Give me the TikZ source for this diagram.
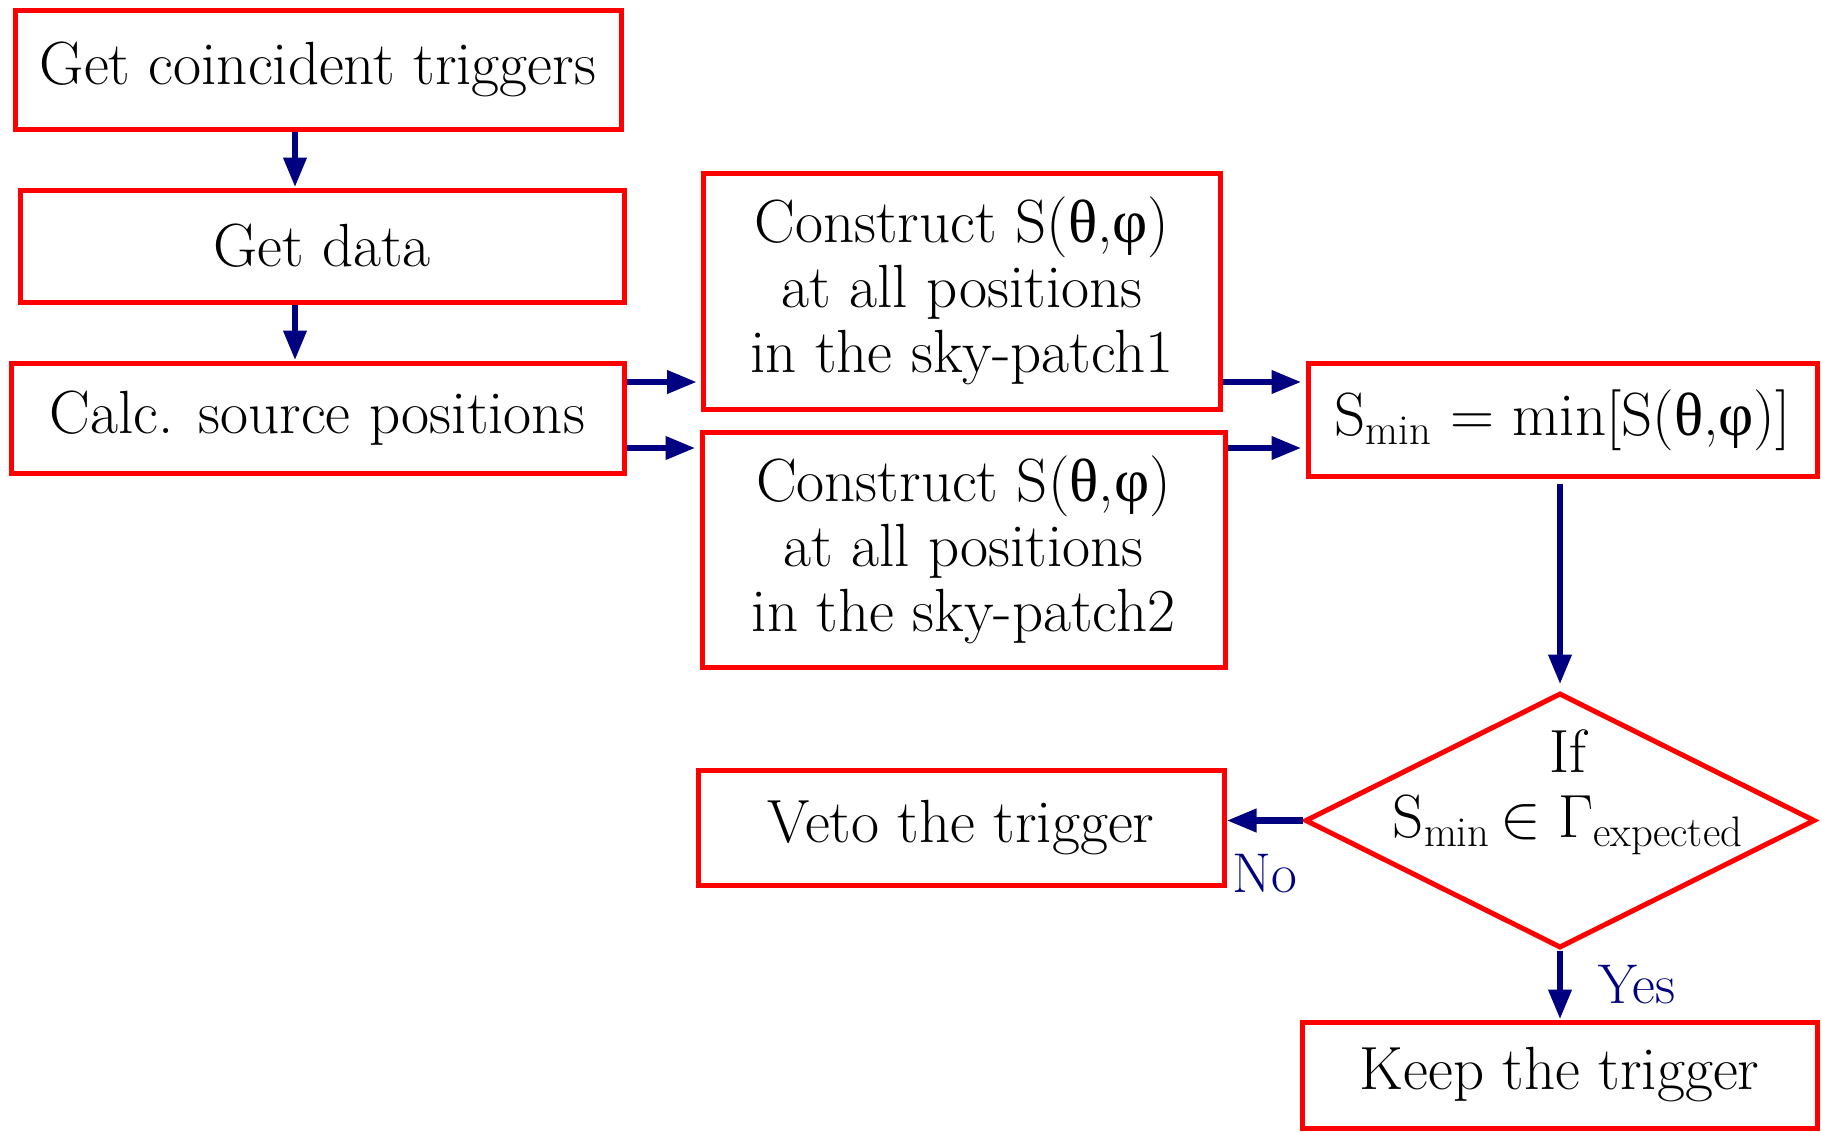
\RequirePackage{fix-cm}
\documentclass[tikz,border=0pt]{standalone}
\usepackage{fontspec}
\usepackage{amsmath}
\usepackage{xcolor}
\usetikzlibrary{shapes.geometric,arrows.meta,positioning}
\newfontfamily\grk{Liberation Serif}
\definecolor{flowblue}{RGB}{0,0,128}
\newcommand{\bigtxt}{\fontsize{30.5}{32.5}\selectfont}
\newcommand{\Smin}{$\mathrm{S}_{\mathrm{min}}$}
\newcommand{\Sfun}{S({\grk θ},{\grk φ})}

\begin{document}
\begin{tikzpicture}[x=0.5pt, y=-0.5pt]
  \tikzstyle{stepbox}=[rectangle, draw=red, line width=2.5pt, fill=white, align=center, inner sep=0pt, font=\bigtxt]
  \tikzstyle{decision}=[diamond, draw=red, line width=2.5pt, inner sep=0pt, minimum width=255pt, minimum height=127.5pt]
  \tikzstyle{flow}=[-{Triangle[length=15pt, width=11pt]}, line width=3.4pt, flowblue]
  \tikzstyle{answer}=[text=flowblue, font=\fontsize{28}{30}\selectfont]

  \useasboundingbox (0,0) rectangle (1822,1131);

  % Left column
  \node[stepbox, minimum width=303pt, minimum height=59.5pt] (trig) at (318,69.5) {Get coincident triggers};
  \node[stepbox, minimum width=302pt, minimum height=56pt] (data) at (322,246) {Get data};
  \node[stepbox, minimum width=306.5pt, minimum height=55pt] (calc) at (317.5,418) {Calc. source positions};

  % Sky patches
  \node[stepbox, minimum width=258.5pt, minimum height=118pt] (patcha) at (962,291) {Construct \Sfun\\at all positions\\in the sky-patch1};
  \node[stepbox, minimum width=261.5pt, minimum height=117.5pt] (patchb) at (963.5,549.5) {Construct \Sfun\\at all positions\\in the sky-patch2};

  % Minimum and test
  \node[stepbox, minimum width=254.5pt, minimum height=56.5pt] (smin) at (1562.5,420) {\Smin\ = min[\Sfun]};
  \node[decision] (test) at (1560,820.5) {};
  \node[font=\bigtxt, align=center] (testtxt) at (1568,792) {If\\\Smin\,$\in\Gamma_{\mathrm{expected}}$};
  \node[stepbox, minimum width=263pt, minimum height=57.5pt] (veto) at (961,827.5) {Veto the trigger};
  \node[stepbox, minimum width=257.5pt, minimum height=53pt] (keep) at (1559.5,1075) {Keep the trigger};

  % Connections
  \coordinate (a1) at ([xshift=-11.5pt]trig.south);
  \coordinate (a2) at ([xshift=-13.5pt]data.south);
  \draw[flow] (a1) -- (a1 |- data.north);
  \draw[flow] (a2) -- (a2 |- calc.north);

  \coordinate (c1) at ([yshift=18pt]calc.east);
  \coordinate (c2) at ([yshift=-15pt]calc.east);
  \draw[flow, shorten >=2pt] (c1) -- (c1 -| patcha.west);
  \draw[flow, shorten >=2pt] (c2) -- (c2 -| patchb.west);

  \coordinate (p1) at ([yshift=-45.5pt]patcha.east);
  \coordinate (p2) at ([yshift=50.75pt]patchb.east);
  \draw[flow, shorten >=2pt] (p1) -- (p1 -| smin.west);
  \draw[flow, shorten >=2pt] (p2) -- (p2 -| smin.west);

  \draw[flow, shorten <=2.5pt, shorten >=3pt] (test.north |- smin.south) -- (test.north);
  \draw[flow] (test.west) -- node[answer, below=12pt] {No} (test.west -| veto.east);
  \draw[flow] (test.south) -- node[answer, right=14pt] {Yes} (test.south |- keep.north);
\end{tikzpicture}
\end{document}
